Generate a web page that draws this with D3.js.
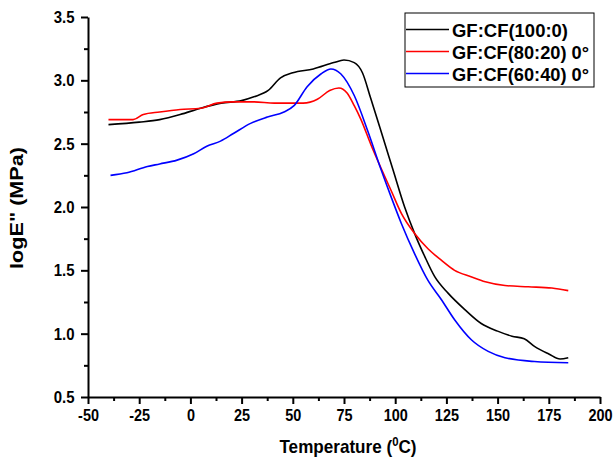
<!DOCTYPE html>
<html>
<head>
<meta charset="utf-8">
<script src="https://cdn.jsdelivr.net/npm/d3@7"></script>
<style>
  body { margin: 0; background: #fff; }
  text { font-family: Arial, "Liberation Sans", sans-serif; font-weight: bold; fill: #000; }
</style>
</head>
<body>
<div id="chart"></div>
<script>
// temperature (C) / logE''
const seriesNames = ['GF:CF(100:0)', 'GF:CF(80:20) 0°', 'GF:CF(60:40) 0°']
const seriesColors = ['#000000', '#ff0000', '#0000ff']

const black = [
  [-40, 2.65], [-25, 2.67], [-15, 2.69], [-5, 2.73], [5, 2.78], [15, 2.82], [25, 2.84],
  [31, 2.87], [38, 2.92], [44, 3.02], [50, 3.06], [60, 3.09], [70, 3.14], [75, 3.16],
  [80, 3.14], [84, 3.06], [88, 2.86], [94, 2.55], [99, 2.29], [104.6, 2.0], [109.5, 1.79],
  [114.4, 1.61], [119.3, 1.45], [125.8, 1.32], [134, 1.19], [142, 1.08], [150, 1.02],
  [157, 0.98], [163, 0.96], [168, 0.9], [175, 0.84], [180.5, 0.8], [184.5, 0.81]
]
const red = [
  [-40, 2.69], [-28, 2.69], [-23, 2.73], [-15, 2.75], [-5, 2.77], [5, 2.78], [13, 2.82],
  [21, 2.83], [31, 2.83], [41, 2.82], [49, 2.82], [55, 2.82], [62, 2.85], [68, 2.92],
  [72.5, 2.94], [76.5, 2.9], [80, 2.8], [83.3, 2.69], [88.2, 2.49], [93, 2.31], [98, 2.13],
  [103, 1.95], [109.5, 1.79], [116, 1.67], [122.5, 1.58], [129, 1.5], [137, 1.45],
  [144, 1.41], [153.6, 1.38], [165, 1.37], [176.5, 1.36], [184.5, 1.34]
]
const blue = [
  [-39, 2.25], [-31, 2.27], [-21, 2.32], [-15, 2.34], [-6.5, 2.37], [1.6, 2.42], [8, 2.48],
  [14.7, 2.52], [21, 2.58], [29.4, 2.66], [37.6, 2.71], [45.7, 2.75], [50.6, 2.8],
  [57, 2.95], [63.7, 3.05], [68.6, 3.09], [73.5, 3.05], [80, 2.88], [86.6, 2.6],
  [93, 2.3], [98, 2.08], [103, 1.87], [109.5, 1.63], [116, 1.42], [122.5, 1.27],
  [129, 1.11], [137.3, 0.95], [145.4, 0.86], [153.6, 0.81], [168, 0.78], [184.5, 0.77]
]
const seriesData = [black, red, blue]

const xTicks = [-50, -25, 0, 25, 50, 75, 100, 125, 150, 175, 200]
const yTicks = [0.5, 1.0, 1.5, 2.0, 2.5, 3.0, 3.5]

const W = 614
const H = 464
const margin = {left: 88, right: 14, top: 17, bottom: 67}
const legendTextWidths = [116, 137, 137]

const svg = d3.select('#chart').append('svg')
  .attr('width', W)
  .attr('height', H)

const x = d3.scaleLinear().domain([-50, 200]).range([margin.left, W - margin.right])
const y = d3.scaleLinear().domain([0.5, 3.5]).range([H - margin.bottom, margin.top])

// minor ticks
svg.append('g')
  .attr('transform', `translate(0,${H - margin.bottom})`)
  .call(d3.axisBottom(x).tickValues(d3.range(-37.5, 200, 25)).tickSize(4).tickFormat(''))
  .call(g => g.select('.domain').remove())
  .selectAll('line').attr('stroke-width', 2)
svg.append('g')
  .attr('transform', `translate(${margin.left},0)`)
  .call(d3.axisLeft(y).tickValues(d3.range(0.75, 3.5, 0.5)).tickSize(4).tickFormat(''))
  .call(g => g.select('.domain').remove())
  .selectAll('line').attr('stroke-width', 2)

const xAxis = svg.append('g')
  .attr('transform', `translate(0,${H - margin.bottom})`)
  .call(d3.axisBottom(x).tickValues(xTicks).tickSize(7).tickSizeOuter(0).tickFormat(d => String(d)))
xAxis.select('.domain').attr('stroke-width', 2)
xAxis.selectAll('line').attr('stroke-width', 2)
xAxis.selectAll('text')
  .attr('font-size', 17)
  .attr('font-family', null)
  .attr('y', 11.5)
  .attr('transform', 'scale(0.85,1)')

const yAxis = svg.append('g')
  .attr('transform', `translate(${margin.left},0)`)
  .call(d3.axisLeft(y).tickValues(yTicks).tickSize(7).tickSizeOuter(0).tickFormat(d3.format('.1f')))
yAxis.select('.domain').attr('stroke-width', 2)
yAxis.selectAll('line').attr('stroke-width', 2)
yAxis.selectAll('text')
  .attr('font-size', 17)
  .attr('font-family', null)
  .attr('x', -13.5 / 0.88)
  .attr('transform', 'scale(0.88,1)')

// curves
const line = d3.line()
  .x(d => x(d[0]))
  .y(d => y(d[1]))
  .curve(d3.curveMonotoneX)

svg.selectAll('.series')
  .data(seriesData)
  .enter()
  .append('path')
  .attr('class', 'series')
  .attr('d', line)
  .attr('fill', 'none')
  .attr('stroke', (d, i) => seriesColors[i])
  .attr('stroke-width', 1.6)

// axis titles
const xt = svg.append('text')
  .attr('transform', 'translate(348,453) scale(0.95,1)')
  .attr('text-anchor', 'middle')
  .attr('font-size', 18)
xt.append('tspan').text('Temperature (')
xt.append('tspan').text('0').attr('font-size', 12).attr('dy', -7)
xt.append('tspan').text('C)').attr('dy', 7)

svg.append('text')
  .attr('transform', 'translate(22.5,208) rotate(-90) scale(1.2,1)')
  .attr('text-anchor', 'middle')
  .attr('font-size', 18)
  .text('logE" (MPa)')

// legend
const lg = svg.append('g').attr('transform', 'translate(405,13)')
lg.append('rect')
  .attr('width', 189)
  .attr('height', 74)
  .attr('fill', '#fff')
  .attr('stroke', '#000')
  .attr('stroke-width', 1)
const item = lg.selectAll('.legend')
  .data(seriesNames)
  .enter()
  .append('g')
  .attr('class', 'legend')
  .attr('transform', (d, i) => `translate(0,${16.5 + i * 22})`)
item.append('line')
  .attr('x1', 1)
  .attr('x2', 44)
  .attr('stroke', (d, i) => seriesColors[i])
  .attr('stroke-width', 1.6)
item.append('text')
  .attr('x', 47)
  .attr('y', 7)
  .attr('font-size', 19)
  .attr('textLength', (d, i) => legendTextWidths[i])
  .attr('lengthAdjust', 'spacingAndGlyphs')
  .text(d => d)
</script>
</body>
</html>
